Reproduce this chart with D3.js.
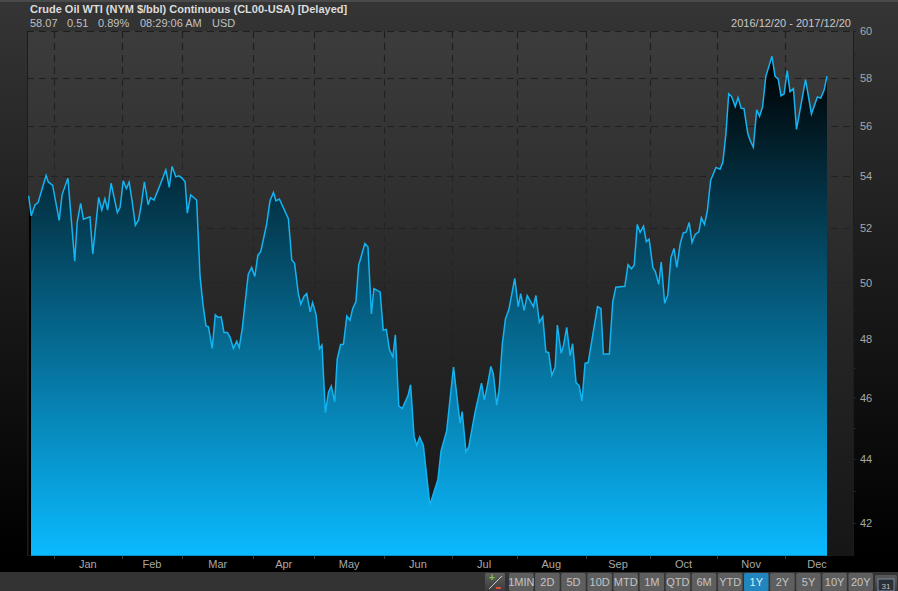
<!DOCTYPE html>
<html><head><meta charset="utf-8">
<script src="https://d3js.org/d3.v7.min.js"></script>
<style>html,body{margin:0;padding:0;background:#000;overflow:hidden}svg{display:block}text{font-family:"Liberation Sans",Arial,sans-serif}</style>
</head><body><svg id="c" width="898" height="591"></svg>
<script>
const titleText = "Crude Oil WTI (NYM $/bbl) Continuous (CL00-USA) [Delayed]";
const quoteFields = ["58.07","0.51","0.89%","08:29:06 AM","USD"];
const rangeText = "2016/12/20 - 2017/12/20";
const sessions = [
0,.8,2,3,5.6,6.3,7.7,9.8,10.7,12.6,
14.8,15.6,16.7,17.6,19.7,20.6,22.5,23.5,24.5,25.4,
26.5,28.5,29.4,30.4,31.4,32.3,33.2,34.3,35.3,36.2,
37.2,38.4,39.2,40.3,42.2,44.1,45.2,46.1,47.3,48.3,
49.4,50.3,51,52.1,54,55.1,56,57,57.8,59,
60,60.9,61.9,62.8,63.9,64.8,65.8,66.9,67.7,68.7,
70.6,71.7,72.7,73.7,74.6,76.5,77.6,78.7,79.5,80.6,
83.5,84.6,85.5,86.7,87.5,88.5,89.4,90.5,91.3,92.4,
93.5,94.3,95.4,96.4,97.3,98.4,99.2,100.3,101.2,102.3,
103.3,104.2,105.2,106.1,108.1,109.1,110.2,111,113,114,
115,116,117.1,117.9,119,120.1,122,122.8,123.9,124.8,
125.7,126.9,129,131.6,132.6,134.4,136.6,138.7,139.4,140.6,
141.5,143.5,144.6,145.6,146.5,147.5,148.6,149.4,150.5,151.3,
152.3,153.3,154.4,156.3,157.4,158.2,159.3,160.3,162.3,163.1,
164.2,165.3,166.3,167.2,168.2,169.3,170,171.2,171.9,173,
174.1,174.9,176,177,177.9,178.9,179.9,182.9,184,184.8,
186.7,187.8,188.8,191.7,192.7,193.8,194.7,195.7,196.6,197.7,
198.6,199.5,200.7,201.5,202.6,203.4,204.5,205.5,206.5,207.5,
208.4,209.5,210.5,211.4,212.4,213.3,214.3,215.5,216.3,217.3,
218.2,219.3,221,222.3,223.2,224.2,225.1,226,227.2,228.1,
229.1,230,231.2,232,233,234.1,235,236,237,239,
240,241,241.9,242.9,243.9,244.8,245.9,246.9,249.8,251.7,
253.6,254.7,255.8,256.7];
const closes = [
53.24,52.47,52.89,52.98,54.03,53.78,53.65,52.3,53.27,53.93,
50.78,52.25,52.95,52.35,52.44,51.05,53.18,52.7,53.13,52.7,
53.73,52.6,52.8,53.83,53.52,53.77,53.08,52.12,52.31,52.9,
53.78,52.9,53.17,53.08,53.65,54.25,53.57,54.39,53.98,54.02,
53.92,53.78,52.58,53.28,53.08,50.22,49.25,48.45,48.42,47.67,
48.84,48.75,48.77,48.22,48.22,48.04,47.67,47.92,47.7,48.38,
50.3,50.55,50.22,51,51.13,52.15,53.05,53.37,53.05,53.12,
52.37,50.82,50.7,49.6,49.22,49.5,49.6,48.95,49.28,48.85,
47.65,47.78,45.5,46.18,46.38,45.86,47.3,47.8,47.8,48.8,
48.65,49.07,49.3,50.63,51.43,51.3,48.87,49.78,49.66,48.3,
48.33,47.63,47.38,48.14,45.72,45.63,46.07,46.43,44.73,44.43,
44.7,44.43,42.55,43.35,44.25,44.9,47.03,45.15,45.53,44.22,
44.38,45.5,46,46.48,45.92,46.4,47.05,46.8,45.75,46.3,
47.83,48.7,49.03,50.15,49.13,49.6,49,49.53,49.13,49.53,
48.58,48.78,47.55,47.52,46.75,47.03,48.48,47.5,47.73,48.4,
47.42,47.83,46.5,46.4,45.88,47.15,47.18,49.13,49.07,47.47,
47.47,49.3,49.83,49.86,50.65,50.5,50.63,52.15,51.85,52.08,
51.5,51.6,50.55,50.4,49.93,50.75,49.25,49.55,50.9,51.25,
50.55,51.43,51.83,51.86,52.22,51.47,51.77,51.87,52.4,52.15,
52.65,53.85,54.35,54.28,54.55,55.7,57.33,57.22,56.8,57.17,
56.73,56.72,55.72,55.42,55.15,56.67,56.4,56.8,58.04,58.91,
58.06,57.95,57.25,57.32,58.3,57.42,57.55,55.87,57.92,56.5,
57.2,57.15,57.5,58.07];
const monthLabels = ["Jan","Feb","Mar","Apr","May","Jun","Jul","Aug","Sep","Oct","Nov","Dec"];
const monthStarts = [8.1,29.9,49.4,72.2,91.8,114.3,136,156.9,179.2,199.8,221.4,243.2];
const monthEnd = 263.8;
const priceTicks = [42,44,46,48,50,52,54,56,58,60];
const minorTicks = [43,45,47,49,51,53,55,57,59];
const rangeButtons = ["1MIN","2D","5D","10D","MTD","1M","QTD","6M","YTD","1Y","2Y","5Y","10Y","20Y"];
const activeButton = "1Y";

const svg = d3.select("#c"), defs = svg.append("defs");
const grad = (id, stops, y1, y2) => {
  const g = defs.append("linearGradient").attr("id", id).attr("gradientUnits","userSpaceOnUse")
    .attr("x1",0).attr("x2",0).attr("y1",y1).attr("y2",y2);
  stops.forEach(s => g.append("stop").attr("offset",s[0]).attr("stop-color",s[1]));
};
grad("outer",[[0,"#353535"],[1,"#000000"]],0,556);
grad("plot",[[0,"#3c3c3c"],[.5,"#282828"],[1,"#161616"]],31,556);
grad("gridInk",[[0,"#1e1e1e"],[.35,"#262626"],[.7,"#1d1d1d"],[1,"#141414"]],31,556);
grad("fill",[[0,"#000000"],[1,"#0abaff"]],60,556);
grad("btn",[[0,"#5e5e5e"],[1,"#3c3c3c"]],573,591);
grad("btnOn",[[0,"#2086bd"],[1,"#0c5c8c"]],573,591);

const L=27,R=853,T=31,B=556;
const x = d3.scaleLinear().domain([0,256.7]).range([28.7,827]);
const y = d3.scaleLog().domain([42,60]).range([523,31]);

svg.append("rect").attr("width",898).attr("height",556).attr("fill","url(#outer)");
svg.append("rect").attr("y",0).attr("width",898).attr("height",2).attr("fill","#4a4a4a");
svg.append("rect").attr("x",L).attr("y",T).attr("width",R-L).attr("height",B-T).attr("fill","url(#plot)");
svg.append("rect").attr("y",556).attr("width",898).attr("height",16).attr("fill","#000");
svg.append("rect").attr("y",572).attr("width",898).attr("height",19).attr("fill","#333");

const grid = svg.append("g").attr("stroke-width",1.2).attr("stroke-dasharray","7 5");
priceTicks.forEach(d => { const p = Math.round(y(d))+.5;
  grid.append("rect").attr("x",L).attr("y",p-.6).attr("width",R-L).attr("height",1.2)
    .attr("fill", d3.scaleLinear().domain([31,300,556]).range(["#1e1e1e","#252525","#171717"])(p)).attr("stroke","none")
    .attr("mask","url(#dashH)");
});
const dashH = defs.append("mask").attr("id","dashH").attr("maskUnits","userSpaceOnUse").attr("x",0).attr("y",0).attr("width",898).attr("height",591);
dashH.append("g").selectAll("line").data(priceTicks).join("line")
  .attr("x1",L).attr("x2",R).attr("y1",d=>Math.round(y(d))+.5).attr("y2",d=>Math.round(y(d))+.5)
  .attr("stroke","#fff").attr("stroke-width",2).attr("stroke-dasharray","7 5");
grid.selectAll(".v").data(monthStarts).join("line").attr("class","v").attr("stroke","url(#gridInk)")
  .attr("x1",d=>Math.round(x(d))+.5).attr("x2",d=>Math.round(x(d))+.5+.01).attr("y1",T).attr("y2",B);
svg.append("line").attr("x1",R+.5).attr("x2",R+.5).attr("y1",T).attr("y2",B).attr("stroke","#1c1c1c");
svg.append("line").attr("x1",L+.5).attr("x2",L+.5).attr("y1",T).attr("y2",B).attr("stroke","#1c1c1c");

const pts = sessions.map((s,i)=>[s,closes[i]]);
const area = d3.area().x(d=>x(d[0])).y0(B-1).y1(d=>y(d[1]));
const line = d3.line().x(d=>x(d[0])).y(d=>y(d[1]));
defs.append("clipPath").attr("id","clipFill").append("rect").attr("x",31).attr("y",0).attr("width",800).attr("height",B-1);
defs.append("clipPath").attr("id","clipStrip").append("rect").attr("x",27).attr("y",0).attr("width",4).attr("height",B-1);
svg.append("path").datum(pts).attr("d",area).attr("fill","#000").attr("clip-path","url(#clipStrip)");
svg.append("path").datum(pts).attr("d",area).attr("fill","url(#fill)").attr("clip-path","url(#clipFill)");
svg.append("path").datum(pts).attr("d",line).attr("fill","none").attr("stroke","#14b4f2").attr("stroke-width",1.5).attr("stroke-linejoin","miter");
svg.append("line").attr("x1",31).attr("x2",x(256.7)).attr("y1",B-.5).attr("y2",B-.5).attr("stroke","#0a8fc6");

// axes
const yAxis = d3.axisRight(y).tickValues(priceTicks).tickFormat(d3.format("d")).tickSize(3);
const gy = svg.append("g").attr("transform",`translate(${R},0)`).call(yAxis);
gy.select(".domain").remove();
gy.selectAll("line").attr("stroke","#222");
gy.selectAll("text").attr("x",7).attr("fill","#a8a8a8").attr("font-size",11);
svg.append("g").selectAll("line").data(minorTicks).join("line")
  .attr("x1",R).attr("x2",R+3).attr("y1",d=>Math.round(y(d))+.5).attr("y2",d=>Math.round(y(d))+.5).attr("stroke","#222");
svg.append("g").selectAll("line").data(monthStarts).join("line")
  .attr("x1",d=>Math.round(x(d))+.5).attr("x2",d=>Math.round(x(d))+.5).attr("y1",B).attr("y2",B+3).attr("stroke","#3a3a3a");
const bounds = monthStarts.concat(monthEnd);
svg.append("g").selectAll("text").data(monthLabels).join("text")
  .attr("x",(d,i)=>x((bounds[i]+bounds[i+1])/2)).attr("y",568).attr("text-anchor","middle")
  .attr("fill","#a8a8a8").attr("font-size",11).text(d=>d);

// header
svg.append("text").attr("x",30).attr("y",13).attr("fill","#dcdcdc").attr("font-size",11).attr("font-weight","bold").text(titleText);
const quoteX = d3.scaleOrdinal().domain(quoteFields).range([30,67,98,140,212]);
svg.append("g").selectAll("text").data(quoteFields).join("text")
  .attr("x",d=>quoteX(d)).attr("y",27).attr("fill","#c0c0c0").attr("font-size",11).text(d=>d);
svg.append("text").attr("x",851).attr("y",27).attr("text-anchor","end").attr("fill","#c8c8c8").attr("font-size",11).text(rangeText);

// toolbar
const bx = d3.scaleBand().domain(rangeButtons).range([509,873]).paddingInner(0.06);
const btn = svg.append("g").selectAll("g").data(rangeButtons).join("g").attr("transform",d=>`translate(${bx(d)},573)`);
btn.append("rect").attr("width",bx.bandwidth()).attr("height",18).attr("rx",1.5)
  .attr("fill",d=>d===activeButton?"url(#btnOn)":"url(#btn)");
btn.append("text").attr("x",bx.bandwidth()/2).attr("y",13).attr("text-anchor","middle")
  .attr("font-size",11).attr("fill",d=>d===activeButton?"#d8eefa":"#c4c4c4").text(d=>d);
svg.append("rect").attr("x",485).attr("y",573).attr("width",20).attr("height",18).attr("rx",1.5).attr("fill","url(#btn)");
svg.append("line").attr("x1",489).attr("y1",589).attr("x2",502).attr("y2",576).attr("stroke","#c8c8c8");
svg.append("text").attr("x",492).attr("y",581).attr("text-anchor","middle").attr("font-size",10).attr("font-weight","bold").attr("fill","#7ac943").text("+");
svg.append("rect").attr("x",496).attr("y",587).attr("width",5).attr("height",2).attr("fill","#e04a3a");
svg.append("rect").attr("x",875).attr("y",575).attr("width",22).attr("height",16).attr("rx",1.5).attr("fill","url(#btn)");
svg.append("rect").attr("x",878).attr("y",579).attr("width",16).attr("height",12).attr("fill","#2a2f38").attr("stroke","#8aa0b8").attr("stroke-width",.8);
svg.append("text").attr("x",886).attr("y",589).attr("text-anchor","middle").attr("font-size",8).attr("fill","#c4c4c4").text("31");
if(sessions.length!==closes.length) console.error("mismatch "+sessions.length+" "+closes.length);
</script></body></html>
